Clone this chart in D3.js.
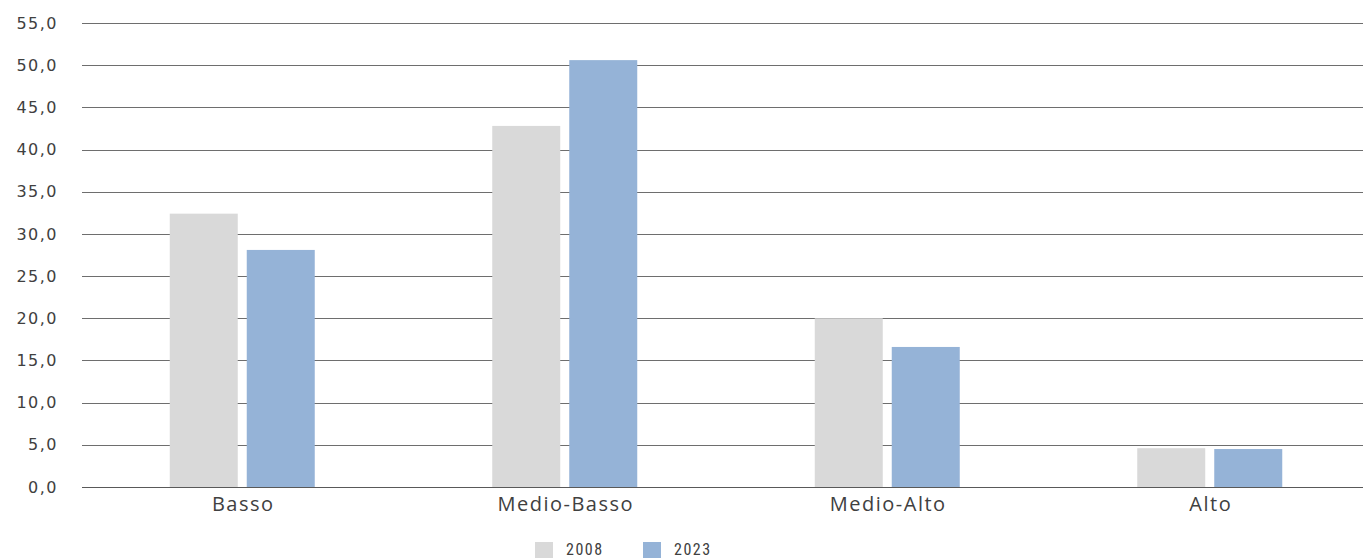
<!DOCTYPE html>
<html>
<head>
<meta charset="utf-8">
<script src="https://cdn.jsdelivr.net/npm/d3@7"></script>
<style>
  body { margin: 0; background: #fff; }
  svg { display: block; font-family: "Open Sans", "Noto Sans", sans-serif; }
</style>
</head>
<body>
<svg id="chart" width="1363" height="558"></svg>
<script>
// data
var categories = ['Basso', 'Medio-Basso', 'Medio-Alto', 'Alto'];
var series = ['2008', '2023'];
var values2008 = [32.4, 42.8, 20.0, 4.6];
var values2023 = [28.1, 50.6, 16.6, 4.5];
var yTicks = [0, 5, 10, 15, 20, 25, 30, 35, 40, 45, 50, 55];

var colors = ['#d9d9d9', '#95b3d7'];

var svg = d3.select('#chart');

var x = d3.scaleBand()
  .domain(categories)
  .range([81, 1371]);

var y = d3.scaleLinear()
  .domain([0, 55])
  .range([487, 23]);

var fmt = function(d) { return d3.format('.1f')(d).replace('.', ','); };

// gridlines
svg.append('g')
  .selectAll('line')
  .data(yTicks)
  .enter().append('line')
    .attr('x1', 82)
    .attr('x2', 1363)
    .attr('y1', function(d) { return Math.round(y(d)) + 0.5; })
    .attr('y2', function(d) { return Math.round(y(d)) + 0.5; })
    .attr('stroke', '#6e6e6e')
    .attr('stroke-width', 1);

// y labels
svg.append('g')
  .selectAll('text')
  .data(yTicks)
  .enter().append('text')
    .attr('x', 58)
    .attr('y', function(d) { return y(d); })
    .attr('dy', '0.35em')
    .attr('text-anchor', 'end')
    .attr('font-size', 16)
    .attr('letter-spacing', 1.5)
    .attr('font-family', '"DejaVu Sans", sans-serif')
    .attr('fill', '#404040')
    .text(fmt);

// bars
var barW = 68, gap = 9;
var allValues = [values2008, values2023];
series.forEach(function(s, si) {
  svg.append('g')
    .selectAll('rect')
    .data(allValues[si])
    .enter().append('rect')
      .attr('x', function(d, i) {
        var c = x(categories[i]) + x.bandwidth() / 2;
        return si === 0 ? c - gap / 2 - barW : c + gap / 2;
      })
      .attr('y', function(d) { return y(d); })
      .attr('width', barW)
      .attr('height', function(d) { return y(0) - y(d); })
      .attr('fill', colors[si]);
});

// baseline on top of bars
svg.append('line')
  .attr('x1', 82).attr('x2', 1363)
  .attr('y1', Math.round(y(0)) + 0.5).attr('y2', Math.round(y(0)) + 0.5)
  .attr('stroke', '#595959');

// category labels
svg.append('g')
  .selectAll('text')
  .data(categories)
  .enter().append('text')
    .attr('x', function(d) { return x(d) + x.bandwidth() / 2 + 1; })
    .attr('y', 511)
    .attr('text-anchor', 'middle')
    .attr('font-size', 20)
    .attr('letter-spacing', 1.5)
    .attr('fill', '#404040')
    .text(function(d) { return d; });

// legend
var legendX = [535, 643];
var leg = svg.append('g');
series.forEach(function(s, i) {
  leg.append('rect')
    .attr('x', legendX[i])
    .attr('y', 542)
    .attr('width', 18)
    .attr('height', 18)
    .attr('fill', colors[i]);
  leg.append('text')
    .attr('x', legendX[i] + 31)
    .attr('y', 555)
    .attr('font-size', 16)
    .attr('letter-spacing', 1.5)
    .attr('font-family', '"Liberation Sans Narrow", "Roboto Condensed", sans-serif')
    .attr('fill', '#404040')
    .text(s);
});
</script>
</body>
</html>
